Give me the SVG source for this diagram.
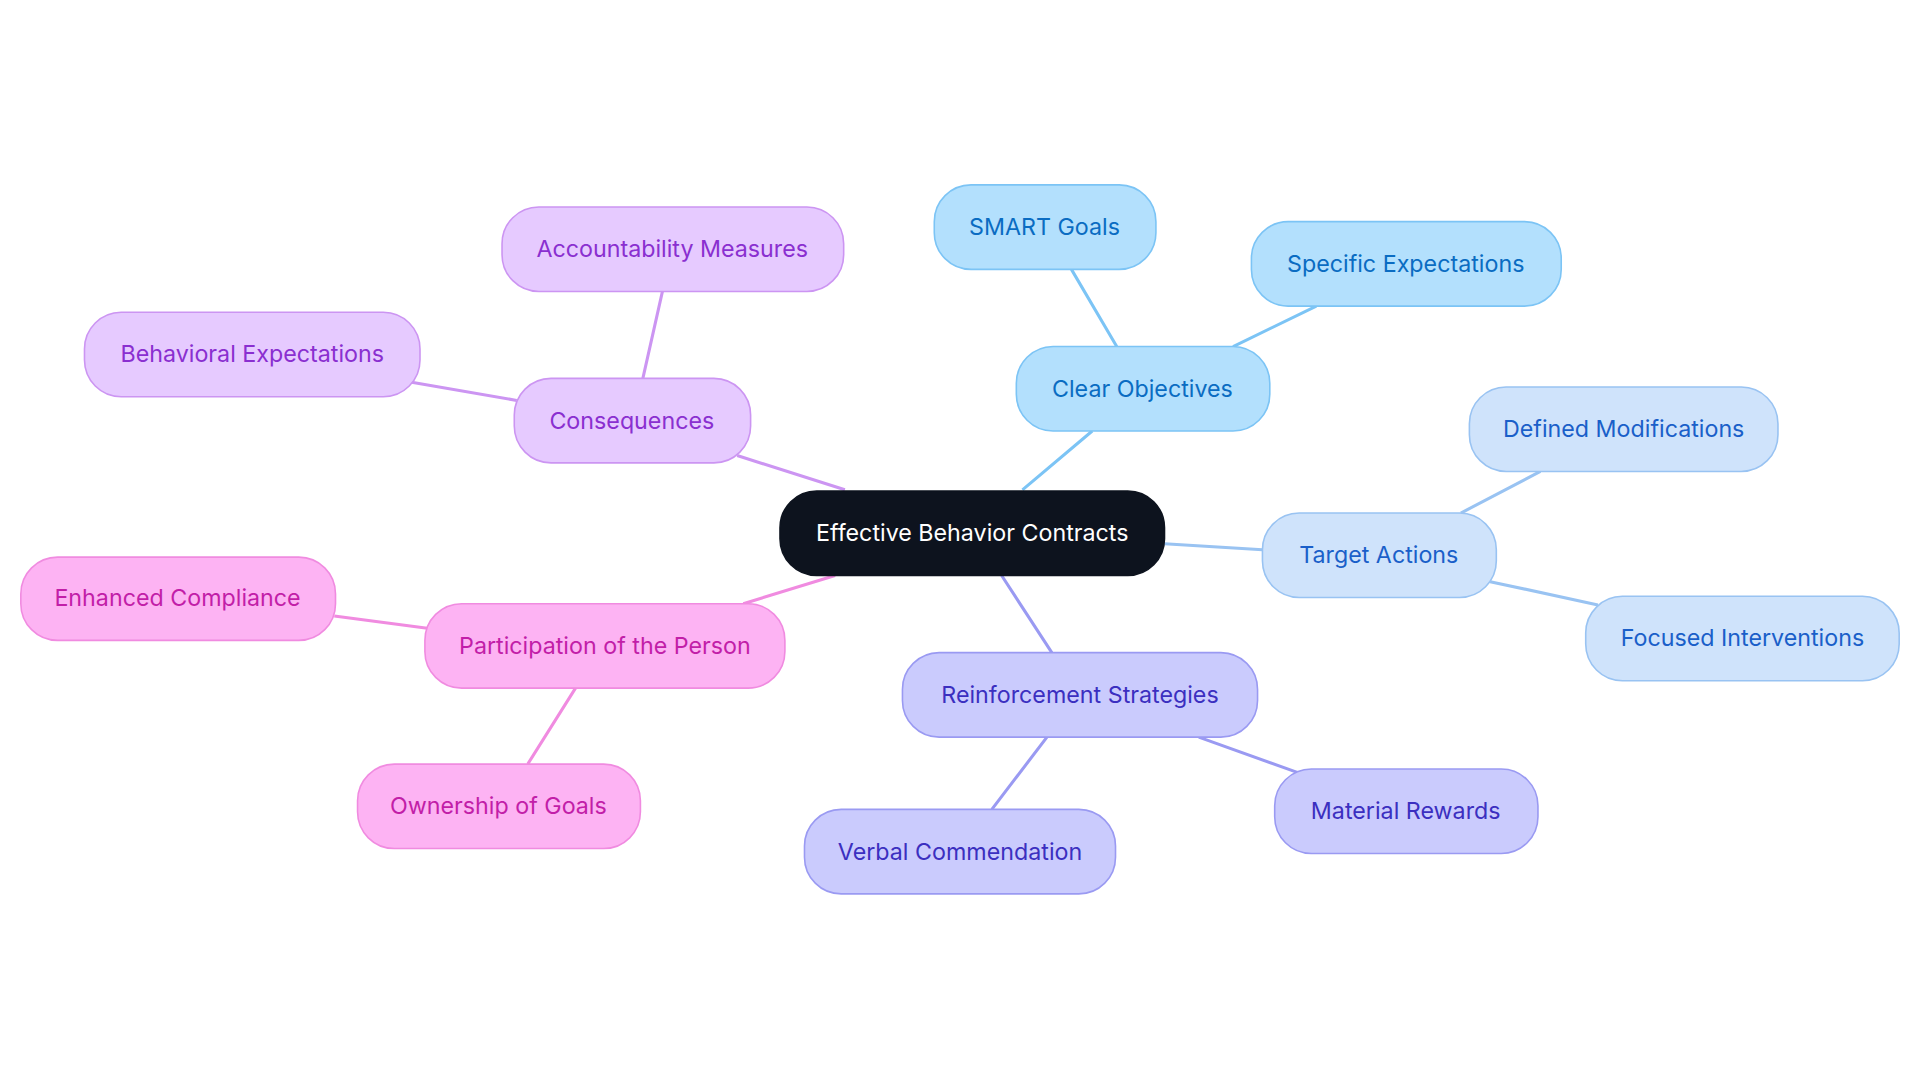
<svg xmlns="http://www.w3.org/2000/svg" width="1920" height="1083" viewBox="0 0 1920 1083">
<style>
text{font-family:Inter,"Open Sans","Liberation Sans",sans-serif;font-size:19px;text-anchor:middle;dominant-baseline:central}
rect{stroke-width:1.3}
.l{fill:none;stroke-width:2.5}
.b1 rect{fill:#b3e0fd;stroke:#7cc4f5}.b1 text{fill:#0a6cc2}
.b2 rect{fill:#cfe3fb;stroke:#99c3f2}.b2 text{fill:#1a5fc9}
.b3 rect{fill:#cacbfd;stroke:#9a9af2}.b3 text{fill:#3b2fc0}
.b4 rect{fill:#fdb3f3;stroke:#f08be0}.b4 text{fill:#c21ea8}
.b5 rect{fill:#e6caff;stroke:#cc95f2}.b5 text{fill:#8a2fd0}
</style>
<rect width="1920" height="1083" fill="#fff"/>
<g transform="scale(1.22449)">
<g id="connectors">
<path class="l" stroke="#7cc4f5" d="M835,400L892,352M912,283L875,220M1007,283L1075,250"/>
<path class="l" stroke="#99c3f2" d="M951,444L1031,449M1193,419L1258,385M1217,475L1305,494"/>
<path class="l" stroke="#9a9af2" d="M818,470L859,533M979,602L1060,631M855,602L810,661"/>
<path class="l" stroke="#f08be0" d="M682,470L607,493M273,503L349,513M470,562L431,624"/>
<path class="l" stroke="#cc95f2" d="M690,400L602,372M335,312L422,327M541,238L525,309"/>
</g>
<g id="center"><rect x="637" y="401" width="314" height="69" rx="30" fill="#0d131e" stroke="#0d131e"/><text x="794" y="435" fill="#fff">Effective Behavior Contracts</text></g>
<g id="clear" class="b1"><rect x="830" y="283" width="207" height="69" rx="30"/><text x="933" y="317">Clear Objectives</text></g>
<g id="smart" class="b1"><rect x="763" y="151" width="181" height="69" rx="30"/><text x="853" y="185">SMART Goals</text></g>
<g id="spec" class="b1"><rect x="1022" y="181" width="253" height="69" rx="30"/><text x="1148" y="215">Specific Expectations</text></g>
<g id="target" class="b2"><rect x="1031" y="419" width="191" height="69" rx="30"/><text x="1126" y="453">Target Actions</text></g>
<g id="defined" class="b2"><rect x="1200" y="316" width="252" height="69" rx="30"/><text x="1326" y="350">Defined Modifications</text></g>
<g id="focused" class="b2"><rect x="1295" y="487" width="256" height="69" rx="30"/><text x="1423" y="521">Focused Interventions</text></g>
<g id="reinf" class="b3"><rect x="737" y="533" width="290" height="69" rx="30"/><text x="882" y="567">Reinforcement Strategies</text></g>
<g id="material" class="b3"><rect x="1041" y="628" width="215" height="69" rx="30"/><text x="1148" y="662">Material Rewards</text></g>
<g id="verbal" class="b3"><rect x="657" y="661" width="254" height="69" rx="30"/><text x="784" y="695">Verbal Commendation</text></g>
<g id="particip" class="b4"><rect x="347" y="493" width="294" height="69" rx="30"/><text x="494" y="527">Participation of the Person</text></g>
<g id="enhanced" class="b4"><rect x="17" y="455" width="257" height="68" rx="30"/><text x="145" y="488">Enhanced Compliance</text></g>
<g id="ownership" class="b4"><rect x="292" y="624" width="231" height="69" rx="30"/><text x="407" y="658">Ownership of Goals</text></g>
<g id="conseq" class="b5"><rect x="420" y="309" width="193" height="69" rx="30"/><text x="516" y="343">Consequences</text></g>
<g id="behav" class="b5"><rect x="69" y="255" width="274" height="69" rx="30"/><text x="206" y="289">Behavioral Expectations</text></g>
<g id="account" class="b5"><rect x="410" y="169" width="279" height="69" rx="30"/><text x="549" y="203">Accountability Measures</text></g>
</g>
</svg>
